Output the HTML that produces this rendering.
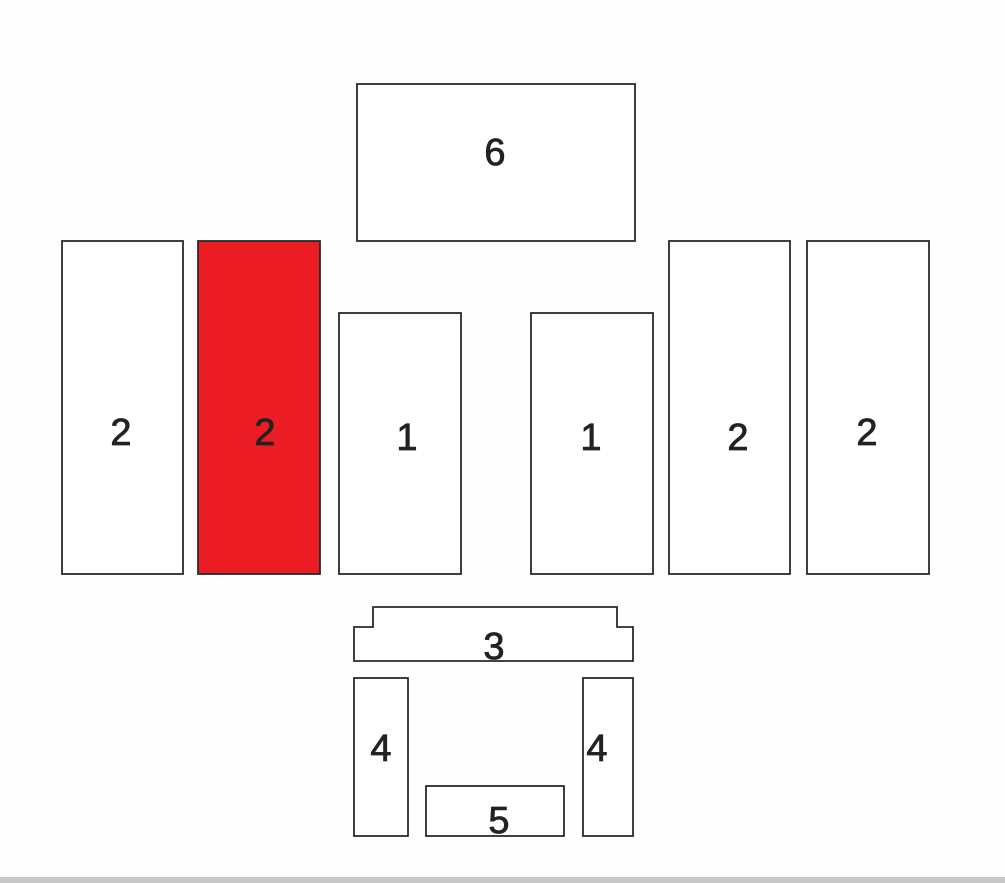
<!DOCTYPE html>
<html><head><meta charset="utf-8"><style>
html,body{margin:0;padding:0;background:#fff;}
svg{display:block;}
text{font-family:"Liberation Sans",Arial,sans-serif;font-size:38px;fill:#222;stroke:#222;stroke-width:0.8;text-anchor:middle;}
</style></head><body>
<svg width="1005" height="883" viewBox="0 0 1005 883" xmlns="http://www.w3.org/2000/svg">
<rect width="1005" height="883" fill="#fefefe"/>
<g fill="#fff" stroke="#2a2a2a" stroke-width="1.8">
<rect x="357" y="84" width="278" height="157"/>
<rect x="62" y="241" width="121" height="333"/>
<rect x="198" y="241" width="122" height="333" fill="#ec1c24"/>
<rect x="339" y="313" width="122" height="261"/>
<rect x="531" y="313" width="122" height="261"/>
<rect x="669" y="241" width="121" height="333"/>
<rect x="807" y="241" width="122" height="333"/>
<path d="M373,607 L617,607 L617,627 L633,627 L633,661 L354,661 L354,627 L373,627 Z"/>
<rect x="354" y="678" width="54" height="158"/>
<rect x="583" y="678" width="50" height="158"/>
<rect x="426" y="786" width="138" height="50"/>
</g>
<text x="495" y="165">6</text>
<text x="121" y="445">2</text>
<text x="265" y="445">2</text>
<text x="407" y="450">1</text>
<text x="591" y="450">1</text>
<text x="738" y="450">2</text>
<text x="867" y="445">2</text>
<text x="494" y="659">3</text>
<text x="381" y="761">4</text>
<text x="597" y="761">4</text>
<text x="499" y="833">5</text>
<rect x="0" y="877" width="1005" height="6" fill="#c8c8c8"/>
</svg>
</body></html>
